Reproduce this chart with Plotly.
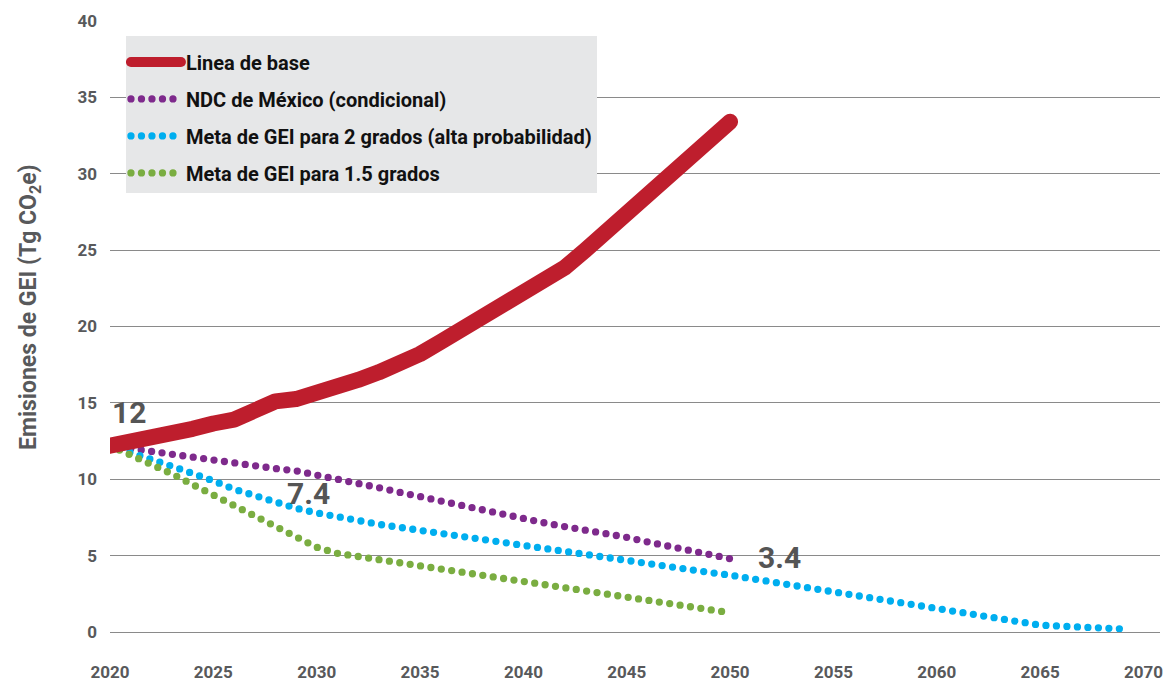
import plotly.graph_objects as go

# ---- data ----
years_base = list(range(2020, 2051))
linea_base = [12.2, 12.45, 12.65, 12.85, 13.3, 13.65, 13.9, 14.5, 15.1, 15.25,
              15.6, 16.0, 16.5, 17.0, 17.55, 18.2, 19.0, 19.8, 20.6, 21.4,
              22.2, 23.0, 23.85, 25.0, 26.2, 27.4, 28.6, 29.8, 31.0, 32.2, 33.4]

years_ndc = list(range(2020, 2051))
ndc_mexico = [12.2, 12.0, 11.8, 11.6, 11.4, 11.25, 11.05, 10.85, 10.7, 10.55,
              10.3, 10.05, 9.8, 9.45, 9.15, 8.85, 8.55, 8.25, 7.95, 7.65,
              7.4, 7.15, 6.9, 6.7, 6.45, 6.2, 5.9, 5.65, 5.4, 5.1, 4.8]

years_2g = list(range(2020, 2070))
meta_2_grados = [12.2, 11.8, 11.3, 10.85, 10.4, 9.9, 9.35, 8.9, 8.45, 8.1,
                 7.8, 7.6, 7.3, 7.05, 6.85, 6.65, 6.45, 6.25, 6.05, 5.8,
                 5.6, 5.4, 5.2, 5.0, 4.85, 4.65, 4.45, 4.3, 4.1, 3.9,
                 3.72, 3.5, 3.3, 3.1, 2.9, 2.72, 2.5, 2.25, 2.0, 1.8,
                 1.56, 1.35, 1.15, 0.9, 0.65, 0.45, 0.38, 0.32, 0.26, 0.2]

years_15g = list(range(2020, 2051))
meta_15_grados = [12.2, 11.6, 10.95, 10.35, 9.65, 8.95, 8.3, 7.65, 6.95, 6.25,
                  5.55, 5.15, 4.95, 4.78, 4.57, 4.36, 4.15, 3.95, 3.73, 3.52,
                  3.3, 3.1, 2.9, 2.7, 2.5, 2.28, 2.08, 1.87, 1.67, 1.46, 1.26]

labels_text = ["12", "7.4", "3.4"]
labels_x = [2020.9, 2029.6, 2052.4]
labels_y = [14.4, 9.05, 4.85]

y_title = "Emisiones de GEI (Tg CO<sub>2</sub>e)"

x_ticks = list(range(2020, 2071, 5))
y_ticks = list(range(0, 41, 5))

FONT = "Roboto, sans-serif"
GRAY = "#58595b"
GRID = "#8a8a8a"
DOT = "0px,10.5px"

fig = go.Figure()
fig.add_trace(go.Scatter(x=years_ndc, y=ndc_mexico, mode="lines", name="NDC de México (condicional)",
                         legendgroup="b", legendrank=2,
                         line=dict(color="#7e2a8c", width=7.3, dash=DOT)))
fig.add_trace(go.Scatter(x=years_2g, y=meta_2_grados, mode="lines",
                         name="Meta de GEI para 2 grados (alta probabilidad)",
                         legendgroup="c", legendrank=3,
                         line=dict(color="#00aeef", width=7.3, dash=DOT)))
fig.add_trace(go.Scatter(x=years_15g, y=meta_15_grados, mode="lines", name="Meta de GEI para 1.5 grados",
                         legendgroup="d", legendrank=4,
                         line=dict(color="#7aad41", width=7.3, dash=DOT)))
fig.add_trace(go.Scatter(x=years_base, y=linea_base, mode="lines", name="Linea de base",
                         legendgroup="a", legendrank=1,
                         line=dict(color="#be1e2d", width=16)))

for t, x, y in zip(labels_text, labels_x, labels_y):
    fig.add_annotation(x=x, y=y, text=t, showarrow=False,
                       font=dict(family=FONT, size=30, color="#555555", weight="bold"))

fig.add_annotation(xref="paper", yref="paper", x=-0.0762, y=0.532, text=y_title,
                   textangle=-90, showarrow=False, xanchor="center", yanchor="middle",
                   font=dict(family=FONT, size=23, color=GRAY, weight="bold"))

fig.update_layout(
    width=1174, height=685,
    margin=dict(l=110, r=14, t=21, b=53),
    paper_bgcolor="white", plot_bgcolor="white",
    font=dict(family=FONT),
    showlegend=True,
    legend=dict(x=0.0152, y=0.9755, xanchor="left", yanchor="top",
                bgcolor="#e6e7e8", borderwidth=0, tracegroupgap=8,
                traceorder="grouped", itemwidth=50,
                title=dict(text="\u200b", font=dict(size=5)),
                font=dict(family=FONT, size=20, color="#111111", weight="bold")),
    xaxis=dict(range=[2020, 2070.8], tickvals=x_ticks, showgrid=False, zeroline=False,
               showline=False, ticks="", ticklabelstandoff=28, automargin=False,
               tickfont=dict(family=FONT, size=17, color=GRAY, weight="bold")),
    yaxis=dict(range=[0, 40], tickvals=y_ticks, showgrid=True, gridcolor=GRID, gridwidth=1.3,
               zeroline=True, zerolinecolor=GRID, zerolinewidth=1.3, showline=False, ticks="",
               ticklabelstandoff=12, automargin=False,
               tickfont=dict(family=FONT, size=17, color=GRAY, weight="bold")),
)

post = """
document.body.style.margin='0';
var gd = document.getElementById('{plot_id}');
function fixCaps(){
  gd.querySelectorAll('path.js-line').forEach(function(p){
    p.style.strokeLinecap='round'; p.style.strokeLinejoin='round';
  });
}
fixCaps();
gd.on('plotly_afterplot', fixCaps);
"""

fig.write_html("out.html", post_script=post, config={"displayModeBar": False})
